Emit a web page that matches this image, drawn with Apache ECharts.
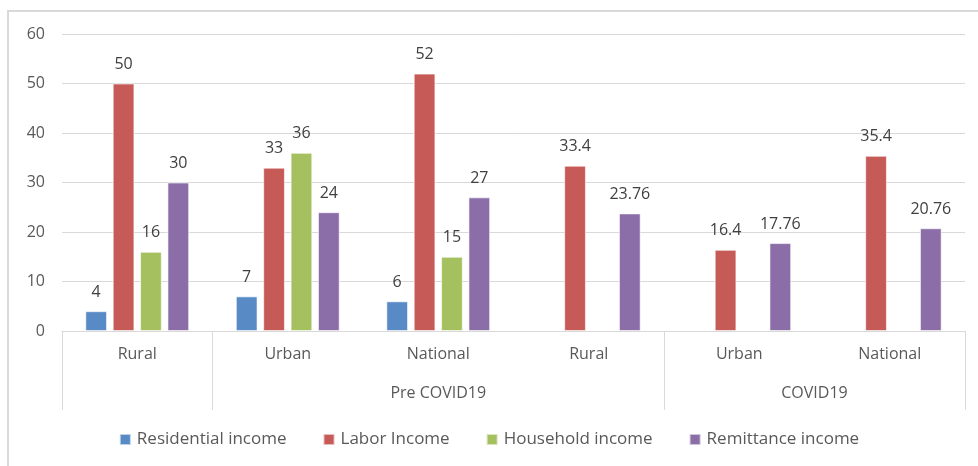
<!DOCTYPE html>
<html>
<head>
<meta charset="utf-8">
<script src="https://cdn.jsdelivr.net/npm/echarts@6/dist/echarts.min.js"></script>
<style>
  html, body { margin: 0; padding: 0; background: #fff; }
  #frame { position: absolute; left: 7px; top: 10px; width: 990px; height: 480px; border: 2px solid #d9d9d9; box-sizing: border-box; }
  #chart { position: absolute; left: 0; top: 0; width: 978px; height: 466px; }
</style>
</head>
<body>
<div id="frame"></div>
<div id="chart"></div>
<script>
// Sub-categories along the x axis
const categories = ['Rural', 'Urban', 'National', 'Rural', 'Urban', 'National'];

// Period groups: label and [start, end) category index span
const groupLabels = ['', 'Pre COVID19', 'COVID19'];
const groupSpans = [[0, 1], [1, 4], [4, 6]];

// Income shares per category
const residentialIncome = [4, 7, 6, null, null, null];
const laborIncome = [50, 33, 52, 33.4, 16.4, 35.4];
const householdIncome = [16, 36, 15, null, null, null];
const remittanceIncome = [30, 24, 27, 23.76, 17.76, 20.76];

const seriesNames = ['Residential income', 'Labor Income', 'Household income', 'Remittance income'];
const seriesColors = ['#588AC6', '#C65A57', '#A5C15F', '#8B6EA8'];
const seriesData = [residentialIncome, laborIncome, householdIncome, remittanceIncome];

const yTicks = { min: 0, max: 60, interval: 10 };

const FONT = '"Open Sans", sans-serif';
const FS = 16;

// Group boundaries and centers on a 0..N value scale aligned with the category axis
const boundaries = [];
groupSpans.forEach(s => { if (!boundaries.includes(s[0])) boundaries.push(s[0]); if (!boundaries.includes(s[1])) boundaries.push(s[1]); });
const centers = groupSpans.map(s => (s[0] + s[1]) / 2);
const centerLabel = {};
centers.forEach((c, i) => { centerLabel[c] = groupLabels[i]; });

const chart = echarts.init(document.getElementById('chart'), null, { renderer: 'canvas' });

chart.setOption({
  animation: false,
  textStyle: { fontFamily: FONT },
  grid: { left: 62, right: 13, top: 34, bottom: 135, containLabel: false },
  legend: {
    bottom: 13,
    left: 'center',
    itemWidth: 11,
    itemHeight: 11,
    itemGap: 36,
    icon: 'rect',
    textStyle: { fontSize: 17, color: '#595959', fontFamily: FONT, padding: [0, 0, 0, 1] },
    data: seriesNames
  },
  xAxis: [
    {
      type: 'category',
      data: categories,
      axisLine: { lineStyle: { color: '#d9d9d9', width: 1 } },
      axisTick: { show: false },
      axisLabel: { fontSize: FS, color: '#595959', margin: 15, fontFamily: FONT }
    },
    {
      type: 'value',
      position: 'bottom',
      min: 0,
      max: categories.length,
      axisLine: { show: false },
      splitLine: { show: false },
      axisTick: {
        show: true,
        customValues: boundaries,
        length: 79,
        lineStyle: { color: '#d9d9d9', width: 1 }
      },
      axisLabel: {
        customValues: centers,
        margin: 54,
        fontSize: FS,
        color: '#595959',
        fontFamily: FONT,
        formatter: v => centerLabel[v] || ''
      }
    }
  ],
  yAxis: {
    type: 'value',
    min: yTicks.min,
    max: yTicks.max,
    interval: yTicks.interval,
    axisLine: { show: false },
    axisTick: { show: false },
    axisLabel: { fontSize: FS, color: '#595959', margin: 17, fontFamily: FONT },
    splitLine: { lineStyle: { color: '#d9d9d9', width: 1 } }
  },
  series: seriesNames.map((name, i) => ({
    name: name,
    type: 'bar',
    xAxisIndex: 0,
    data: seriesData[i],
    barGap: '26%',
    barCategoryGap: '31%',
    itemStyle: { color: seriesColors[i], borderColor: 'rgba(255,255,255,0.6)', borderWidth: 1 },
    label: {
      show: true,
      position: 'top',
      distance: 11,
      fontSize: FS,
      color: '#404040',
      fontFamily: FONT
    }
  }))
});
</script>
</body>
</html>
